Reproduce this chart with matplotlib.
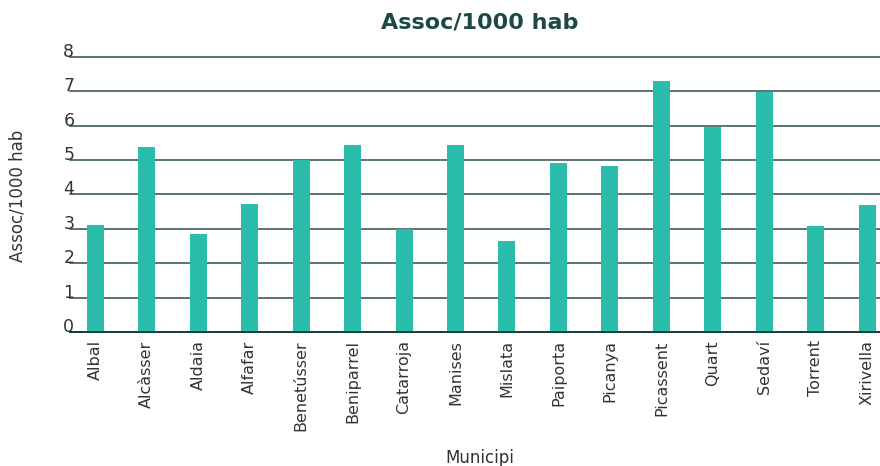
import matplotlib.pyplot as plt

# Associacions per 1000 habitants per municipi
municipis = ['Albal', 'Alcàsser', 'Aldaia', 'Alfafar', 'Benetússer', 'Beniparrel',
             'Catarroja', 'Manises', 'Mislata', 'Paiporta', 'Picanya', 'Picassent',
             'Quart', 'Sedaví', 'Torrent', 'Xirivella']
assoc = [3.11, 5.38, 2.85, 3.72, 5.0, 5.44, 3.0, 5.44, 2.65, 4.91, 4.83, 7.3,
         5.96, 6.98, 3.08, 3.69]
yticks = [0, 1, 2, 3, 4, 5, 6, 7, 8]

plt.rcParams['font.family'] = ['DejaVu Sans']

fig = plt.figure(figsize=(8.8, 4.66), dpi=100)
# the plot area runs a little past the right edge of the picture
ax = fig.add_axes([69.5 / 880, 134 / 466, 823.5 / 880, 275 / 466])

ax.bar(range(len(municipis)), assoc, width=0.33, color='#2bbdac', zorder=3)

ax.set_xlim(-0.5, len(municipis) - 0.5)
ax.set_ylim(0, 8)
ax.set_yticks(yticks)
ax.set_yticklabels([str(t) for t in yticks], ha='left', va='baseline',
                   fontsize=12.5, color='#333333')
ax.tick_params(axis='y', length=0, pad=4.5)
ax.yaxis.grid(True, color='#2e4f4b', linewidth=1.1, zorder=1)
for gl in ax.get_ygridlines():
    gl.set_clip_on(False)

ax.set_xticks(range(len(municipis)))
ax.set_xticklabels(municipis, rotation=90, fontsize=11.5, color='#333333')
ax.tick_params(axis='x', length=0, pad=6)

for s in ['top', 'right', 'left']:
    ax.spines[s].set_visible(False)
ax.spines['bottom'].set_color('#0f3b35')
ax.spines['bottom'].set_linewidth(1.3)
ax.spines['bottom'].set_zorder(4)

fig.text(480 / 880, 1 - 23 / 466, 'Assoc/1000 hab', ha='center', va='center',
         fontsize=16, fontweight='bold', color='#1b4a44')
fig.text(18 / 880, 1 - 196 / 466, 'Assoc/1000 hab', ha='center', va='center',
         rotation=90, fontsize=12, color='#333333')
fig.text(480 / 880, 1 - 458 / 466, 'Municipi', ha='center', va='center',
         fontsize=12, color='#333333')

plt.savefig('out.png', dpi=100)
